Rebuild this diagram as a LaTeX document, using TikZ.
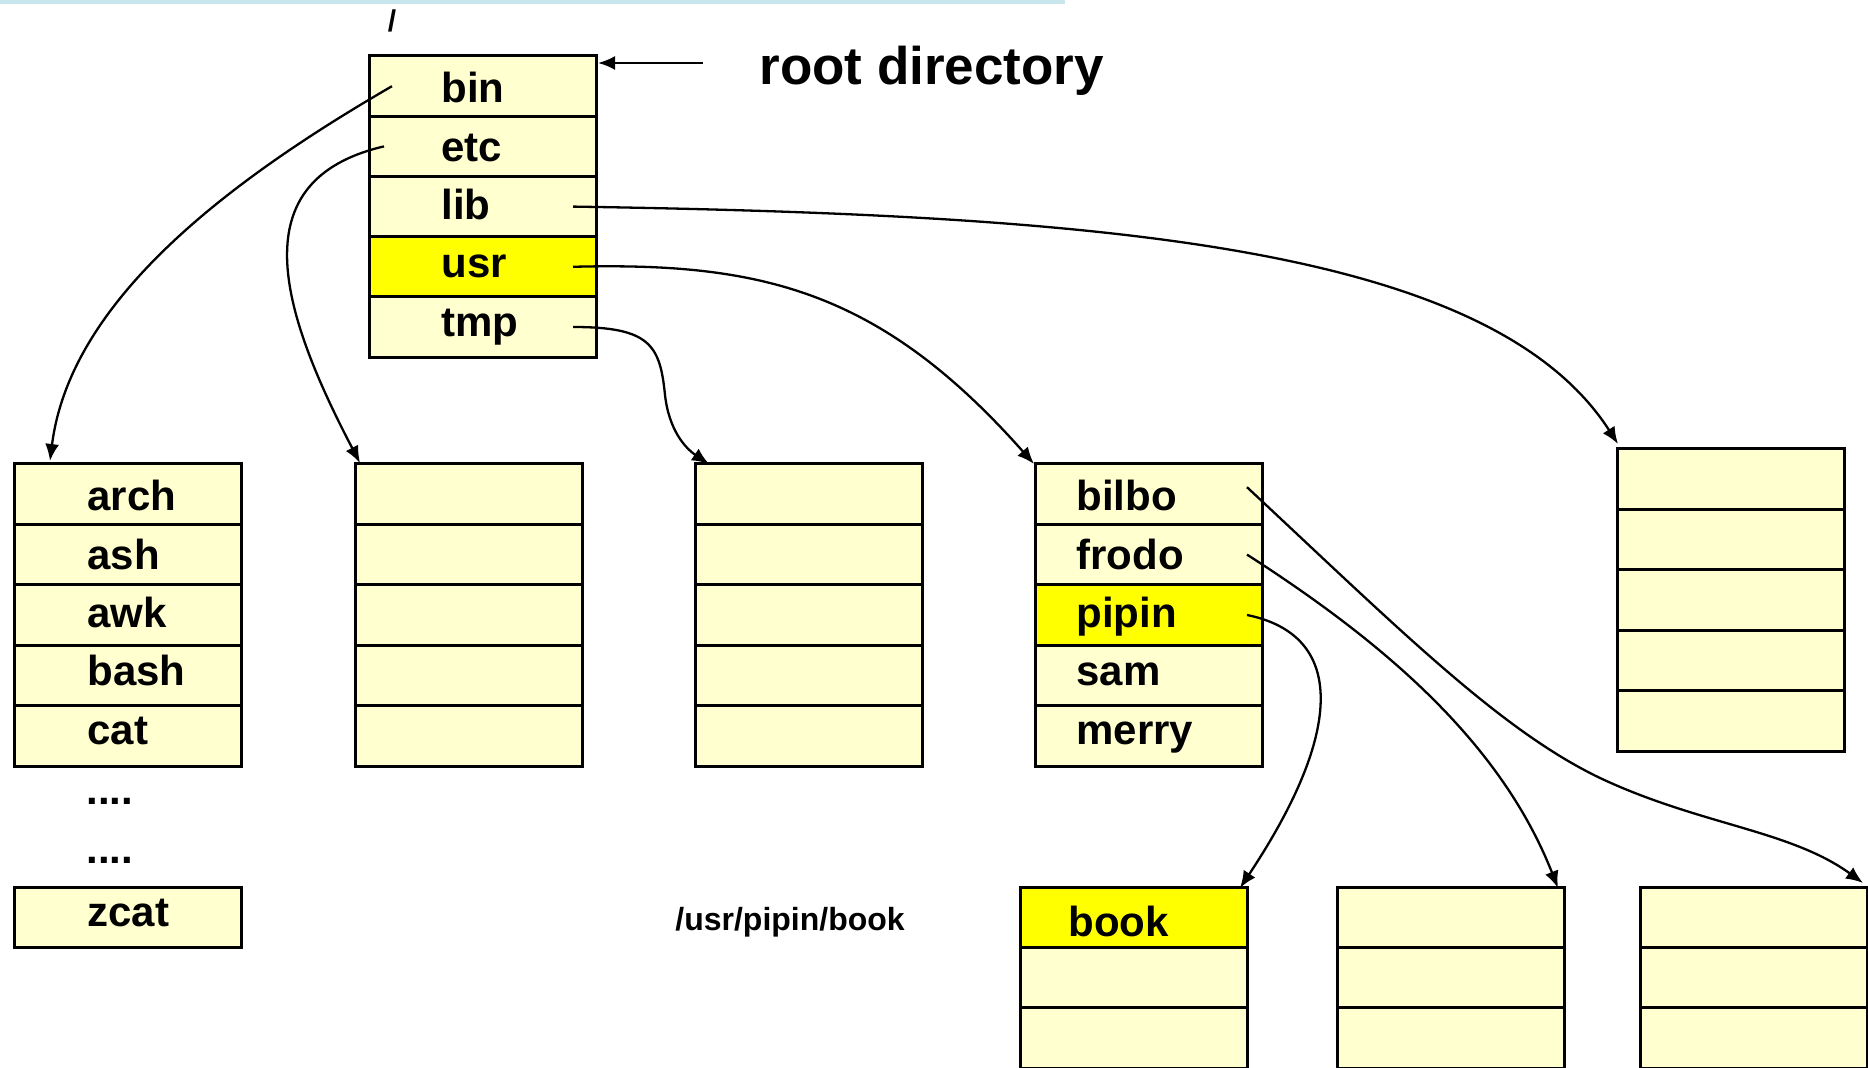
\documentclass[tikz,border=0pt]{standalone}
\usepackage{fontspec}
\setmainfont{Liberation Sans}
\usetikzlibrary{arrows.meta,calc}
\definecolor{cellfill}{HTML}{FFFFD0}
\definecolor{hilite}{HTML}{FFFF00}
\definecolor{barblue}{RGB}{200,230,235}
\begin{document}
\begin{tikzpicture}[x=0.5pt,y=-0.5pt,
  cell/.style={draw=black, line width=1.5pt, fill=cellfill, minimum width=113.5pt,
    minimum height=30.2pt, inner sep=0pt, outer sep=0pt, anchor=north west},
  hot/.style={cell, fill=hilite},
  lbl/.style={font=\bfseries\fontsize{21pt}{25pt}\selectfont, inner sep=0pt, anchor=base west},
  link/.style={line width=1.15pt, -{Latex[length=8.5pt,width=7pt]}},
]
\useasboundingbox (0,0) rectangle (1868,1068);
\fill[barblue] (0,0) rectangle (1065,4);

% root box
\node[cell] (R0) at (369,56) {};
\node[cell] (R1) at (369,116.2) {};
\node[cell] (R2) at (369,176.4) {};
\node[hot]  (R3) at (369,236.6) {};
\node[cell] (R4) at (369,296.8) {};

% second level
\foreach \i in {0,...,4} {
  \node[cell] (A\i) at (14,{464+60.4*\i}) {};
  \node[cell] (B\i) at (355,{464+60.4*\i}) {};
  \node[cell] (C\i) at (695,{464+60.4*\i}) {};
  \node[cell] (E\i) at (1617,{449+60.4*\i}) {};
}
\node[cell] (D0) at (1035,464) {};
\node[cell] (D1) at (1035,524.4) {};
\node[hot]  (D2) at (1035,584.8) {};
\node[cell] (D3) at (1035,645.2) {};
\node[cell] (D4) at (1035,705.6) {};

\node[cell] (Z0) at (14,887) {};

% third level
\node[hot]  (F0) at (1020,887) {};
\node[cell] (F1) at (1020,947.4) {};
\node[cell] (F2) at (1020,1007.8) {};
\foreach \i in {0,1,2} {
  \node[cell] (G\i) at (1337,{887+60.4*\i}) {};
  \node[cell] (H\i) at (1640,{887+60.4*\i}) {};
}

% connectors
\coordinate (rdstart) at (703,63);
\draw[link] (rdstart) -- ($(R0.north east)+(2,7)$);
\draw[link] ($(R0.west)+(23,0)$) .. controls (230,180) and (70,300) .. ($(A0.north west)+(36,-3)$);
\draw[link] ($(R1.west)+(15,0)$) .. controls (240,180) and (280,310) .. ($(B0.north west)+(5,-1)$);
\draw[link] ($(R2.east)+(-23,0)$) .. controls (1100,215) and (1490,245) .. ($(E0.north west)+(1,-5)$);
\draw[link] ($(R3.east)+(-23,0)$) .. controls (760,262) and (880,290) .. ($(D0.north west)+(-1,0)$);
\draw[link] ($(R4.east)+(-23,0)$) .. controls (650,327) and (660,345) .. (665,395)
   .. controls (669,430) and (685,448) .. ($(C0.north west)+(14,0)$);
\draw[link] ($(D0.east)+(-15,-7)$) .. controls (1400,630) and (1500,730) .. (1600,778)
   .. controls (1700,825) and (1790,830) .. ($(H0.north east)+(-4,-4)$);
\draw[link] ($(D1.east)+(-15,0)$) .. controls (1380,640) and (1500,740) .. ($(G0.north east)+(-6,1)$);
\draw[link] ($(D2.east)+(-15,0)$) .. controls (1345,635) and (1345,730) .. ($(F0.north east)+(-7,1)$);

% labels
\node[lbl] (tbin) at (441,103) {bin};
\node[lbl] (tetc) at (441,162) {etc};
\node[lbl] (tlib) at (441,220) {lib};
\node[lbl] (tusr) at (441,278) {usr};
\node[lbl] (ttmp) at (441,337) {tmp};

\node[lbl] (tarch) at (87,511) {arch};
\node[lbl] (tash)  at (87,570) {ash};
\node[lbl] (tawk)  at (87,628) {awk};
\node[lbl] (tbash) at (87,686) {bash};
\node[lbl] (tcat)  at (87,745) {cat};
\node[lbl] (tdot1) at (86,805) {....};
\node[lbl] (tdot2) at (86,863) {....};
\node[lbl] (tzcat) at (87,926) {zcat};

\node[lbl] (tbilbo) at (1076,511) {bilbo};
\node[lbl] (tfrodo) at (1076,570) {frodo};
\node[lbl] (tpipin) at (1076,628) {pipin};
\node[lbl] (tsam)   at (1076,686) {sam};
\node[lbl] (tmerry) at (1076,745) {merry};

\node[lbl] (tbook) at (1068,936) {book};

\node[lbl, font=\bfseries\fontsize{26.5pt}{30pt}\selectfont] (troot) at (759,85) {root directory};
\node[lbl, font=\bfseries\fontsize{16pt}{19pt}\selectfont] (tpath) at (675,930) {/usr/pipin/book};
\node[lbl, anchor=base, font=\bfseries\fontsize{15pt}{18pt}\selectfont] (tslash) at (392,32) {/};
\end{tikzpicture}
\end{document}
